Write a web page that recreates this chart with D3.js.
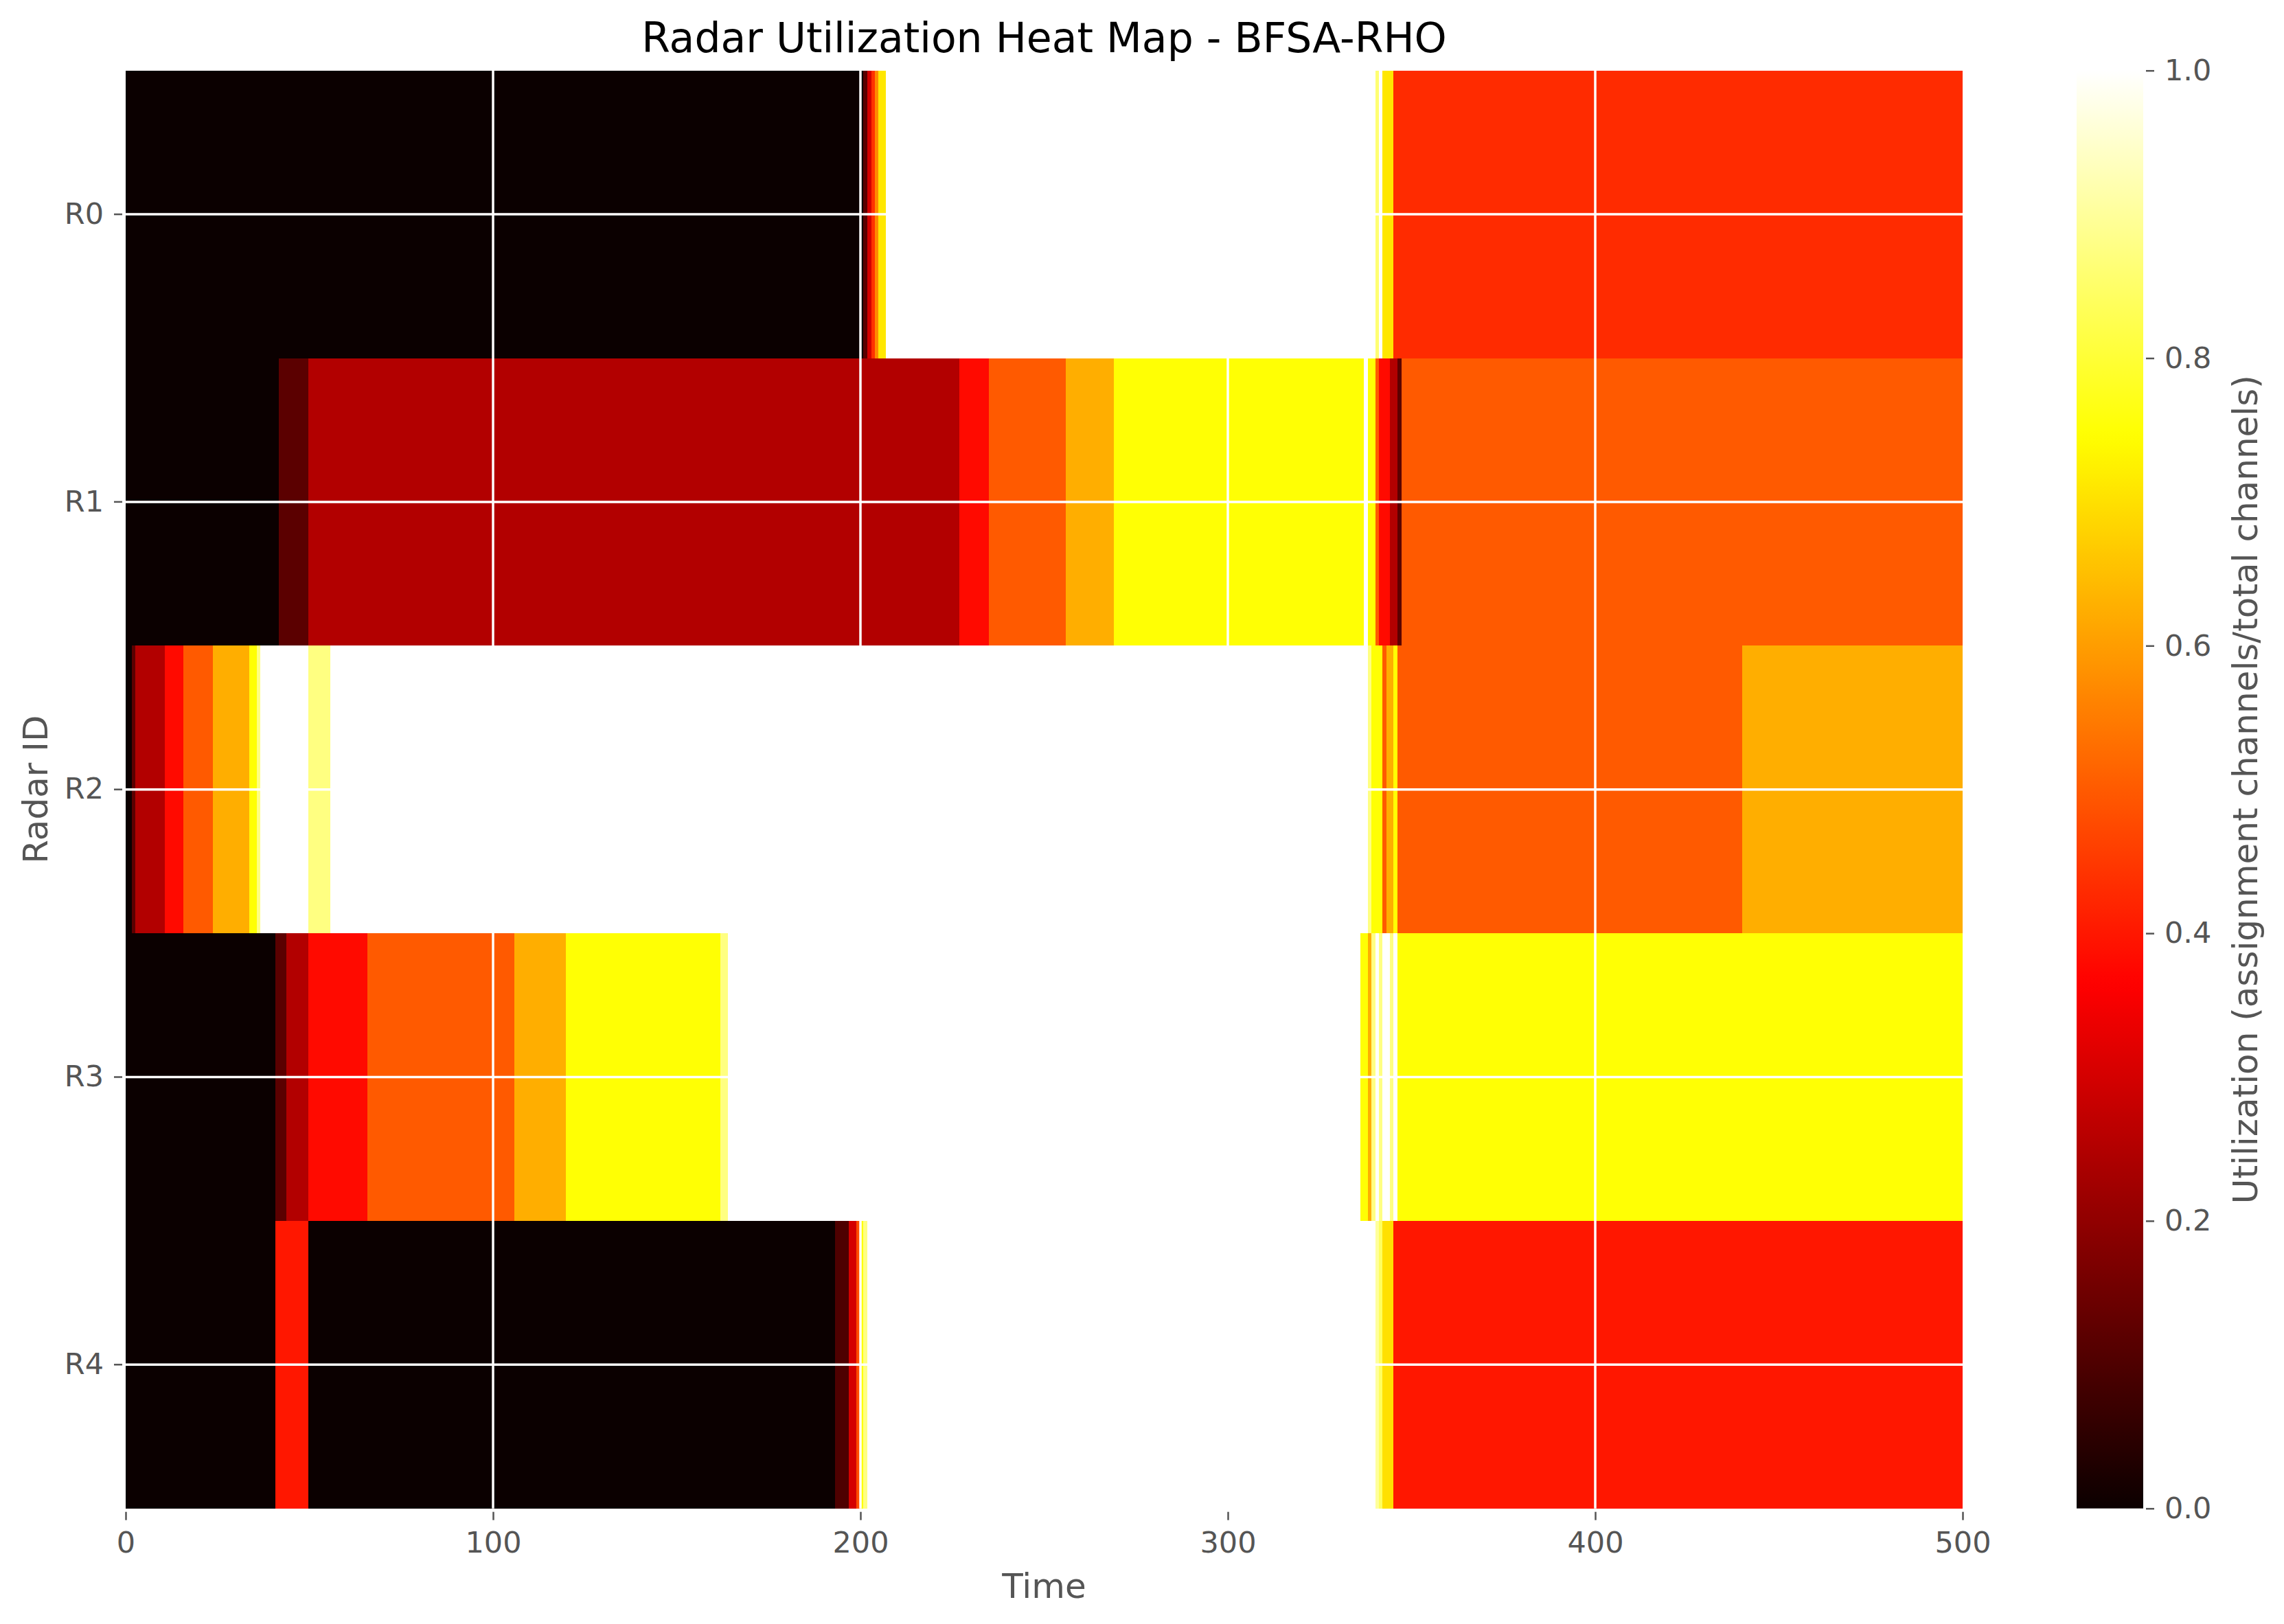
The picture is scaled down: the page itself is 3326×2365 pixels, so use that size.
<!DOCTYPE html>
<html>
<head>
<meta charset="utf-8">
<script src="https://cdn.jsdelivr.net/npm/d3@7"></script>
<style>
  body { margin: 0; background: #fff; }
  text { font-family: "DejaVu Sans", sans-serif; }
</style>
</head>
<body>
<div id="chart"></div>
<script>
// radar ids (rows, top to bottom)
const radars = ["R0", "R1", "R2", "R3", "R4"];
const timeEnd = 500;

// each run: [start time, utilization]; a run ends where the next one starts
const runsR0 = [[0, 0], [200.8, 0.12], [201.9, 0.30], [203.0, 0.44], [204.0, 0.57], [204.9, 0.71],
  [207.0, 1.0], [340.1, 0.86], [341.2, 1.0], [342.1, 0.71], [345.1, 0.43]];
const runsR1 = [[0, 0], [41.7, 0.12], [49.7, 0.25], [227.0, 0.38], [235.0, 0.5], [255.9, 0.625],
  [269.0, 0.75], [337.1, 1.0], [338.2, 0.75], [340.1, 0.5], [341.2, 0.38], [344.2, 0.25],
  [346.2, 0.12], [347.2, 0.5]];
const runsR2 = [[0, 0], [1.7, 0.12], [2.6, 0.25], [10.7, 0.38], [15.7, 0.5], [23.7, 0.625],
  [33.6, 0.75], [35.7, 0.875], [36.6, 1.0], [49.7, 0.875], [55.7, 1.0], [338.2, 0.875],
  [339.1, 0.75], [342.1, 0.5], [343.2, 0.625], [345.1, 0.75], [346.2, 0.5], [440.0, 0.625]];
const runsR3 = [[0, 0], [40.8, 0.12], [43.7, 0.25], [49.7, 0.38], [65.8, 0.5], [105.8, 0.625],
  [119.9, 0.75], [161.9, 0.875], [164.0, 1.0], [336.1, 0.75], [338.2, 0.625], [339.1, 0.875],
  [340.1, 1.0], [341.2, 0.875], [342.1, 1.0], [344.2, 0.875], [345.1, 1.0], [346.2, 0.75]];
const runsR4 = [[0, 0], [40.8, 0.40], [49.7, 0], [193.0, 0.10], [196.9, 0.30], [198.9, 0.48],
  [199.8, 0.75], [200.8, 0.875], [201.9, 1.0], [340.1, 0.90], [341.2, 0.84], [342.1, 0.70],
  [345.1, 0.40]];

const timeTicks = [0, 100, 200, 300, 400, 500];
const colorTicks = [0, 0.2, 0.4, 0.6, 0.8, 1.0];

const allRuns = [runsR0, runsR1, runsR2, runsR3, runsR4];

const W = 3326, H = 2365;
const plot = { left: 183, right: 2858, top: 102.7, bottom: 2196.7 };
const cbar = { left: 3024, right: 3121 };

// matplotlib "hot" colormap
const hot = d3.scaleLinear()
  .domain([0, 0.365079, 0.746032, 1])
  .range(["#0b0000", "#ff0000", "#ffff00", "#ffffff"])
  .clamp(true);

const x = d3.scaleLinear().domain([0, timeEnd]).range([plot.left, plot.right]);
const y = d3.scaleBand().domain(radars).range([plot.top, plot.bottom]).padding(0);
const c = d3.scaleLinear().domain([0, 1]).range([plot.bottom, plot.top]);

const svg = d3.select("#chart").append("svg")
  .attr("width", W).attr("height", H)
  .attr("viewBox", `0 0 ${W} ${H}`);

// flatten runs into cells
const cells = [];
allRuns.forEach((runs, i) => {
  runs.forEach((r, j) => {
    const end = j < runs.length - 1 ? runs[j + 1][0] : timeEnd;
    cells.push({ radar: radars[i], start: r[0], end: end, value: r[1] });
  });
});

svg.append("g")
  .selectAll("rect")
  .data(cells)
  .enter().append("rect")
  .attr("x", d => x(d.start))
  .attr("y", d => y(d.radar))
  .attr("width", d => x(d.end) - x(d.start))
  .attr("height", y.bandwidth())
  .attr("fill", d => hot(d.value))
  .attr("shape-rendering", "crispEdges");

// white grid on top of the image
const grid = svg.append("g").attr("stroke", "#fff").attr("stroke-width", 3.5);
grid.selectAll("line.v")
  .data(timeTicks.slice(1, -1))
  .enter().append("line")
  .attr("class", "v")
  .attr("x1", d => x(d)).attr("x2", d => x(d))
  .attr("y1", plot.top).attr("y2", plot.bottom);
grid.selectAll("line.h")
  .data(radars)
  .enter().append("line")
  .attr("class", "h")
  .attr("x1", plot.left).attr("x2", plot.right)
  .attr("y1", d => y(d) + y.bandwidth() / 2)
  .attr("y2", d => y(d) + y.bandwidth() / 2);

const styleAxis = g => {
  g.select(".domain").remove();
  g.selectAll(".tick line").attr("stroke", "#555").attr("stroke-width", 2.5);
  g.selectAll(".tick text").attr("fill", "#555")
    .attr("font-family", "DejaVu Sans").attr("font-size", 43);
};

svg.append("g")
  .attr("transform", `translate(0,${plot.bottom + 5})`)
  .call(d3.axisBottom(x).tickValues(timeTicks).tickSize(12).tickPadding(17).tickFormat(d3.format("d")))
  .call(styleAxis);

svg.append("g")
  .attr("transform", `translate(${plot.left - 5},0)`)
  .call(d3.axisLeft(y).tickSize(12).tickPadding(15))
  .call(styleAxis);

// colorbar
const defs = svg.append("defs");
const grad = defs.append("linearGradient")
  .attr("id", "hotgrad")
  .attr("x1", 0).attr("y1", 1).attr("x2", 0).attr("y2", 0);
grad.selectAll("stop")
  .data(d3.range(0, 1.0001, 0.01))
  .enter().append("stop")
  .attr("offset", d => d)
  .attr("stop-color", d => hot(d));

svg.append("rect")
  .attr("x", cbar.left).attr("y", plot.top)
  .attr("width", cbar.right - cbar.left)
  .attr("height", plot.bottom - plot.top)
  .attr("fill", "url(#hotgrad)");

svg.append("g")
  .attr("transform", `translate(${cbar.right + 4},0)`)
  .call(d3.axisRight(c).tickValues(colorTicks).tickSize(12).tickPadding(15).tickFormat(d3.format(".1f")))
  .call(styleAxis);

// texts
svg.append("text")
  .attr("x", (plot.left + plot.right) / 2).attr("y", 76)
  .attr("text-anchor", "middle")
  .attr("font-size", 60).attr("fill", "#000")
  .text("Radar Utilization Heat Map - BFSA-RHO");

svg.append("text")
  .attr("x", (plot.left + plot.right) / 2).attr("y", 2327)
  .attr("text-anchor", "middle")
  .attr("font-size", 50).attr("fill", "#555")
  .text("Time");

svg.append("text")
  .attr("transform", `translate(69,${(plot.top + plot.bottom) / 2}) rotate(-90)`)
  .attr("text-anchor", "middle")
  .attr("font-size", 50).attr("fill", "#555")
  .text("Radar ID");

svg.append("text")
  .attr("transform", `translate(3287,${(plot.top + plot.bottom) / 2}) rotate(-90)`)
  .attr("text-anchor", "middle")
  .attr("font-size", 50).attr("fill", "#555")
  .text("Utilization (assignment channels/total channels)");
</script>
</body>
</html>
